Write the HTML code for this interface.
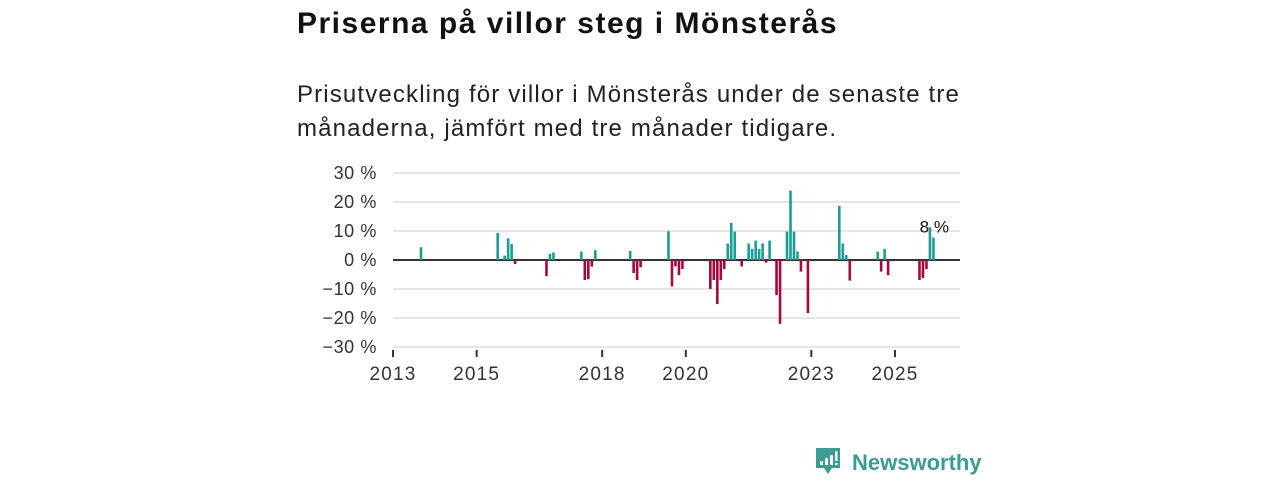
<!DOCTYPE html>
<html><head><meta charset="utf-8">
<style>
body{margin:0;width:1280px;height:480px;background:#fff;font-family:"Liberation Sans","DejaVu Sans",sans-serif;overflow:hidden;position:relative}
#title{position:absolute;left:297px;top:7px;font-size:30px;letter-spacing:1.5px;font-weight:bold;color:#111;margin:0}
#sub{position:absolute;left:297px;top:78px;font-size:24px;letter-spacing:1.15px;line-height:34px;color:#222;width:800px}
svg{position:absolute;left:0;top:0}
</style></head><body>
<h1 id="title">Priserna på villor steg i Mönsterås</h1>
<div id="sub">Prisutveckling för villor i Mönsterås under de senaste tre<br>månaderna, jämfört med tre månader tidigare.</div>
<svg id="chart" width="1280" height="480"></svg>
<script>
const months=[8,30,32,33,34,35,44,45,46,54,55,56,57,58,68,69,70,71,79,80,81,82,83,91,92,93,94,95,96,97,98,100,102,103,104,105,106,107,108,110,111,113,114,115,116,117,119,128,129,130,131,139,140,141,142,151,152,153,154,155];
const values=[4.4,9.3,1.5,7.5,5.5,-1.4,-5.6,2.1,2.6,2.9,-6.9,-6.6,-2.3,3.4,3.1,-4.5,-6.9,-2.5,9.9,-9.1,-2.2,-5.2,-3.1,-10,-6.9,-15.2,-6.9,-3.1,5.7,12.8,9.8,-2.2,5.7,3.8,6.7,3.8,5.7,-0.9,6.7,-12.1,-22,9.8,23.9,9.8,2.9,-4,-18.3,18.7,5.7,1.7,-7.1,2.9,-4,3.8,-5.2,-6.9,-6.2,-3.1,11.3,7.7];
const yTicks=[30,20,10,0,-10,-20,-30];
const xTickYears=[2013,2015,2018,2020,2023,2025];
const lastLabel="8 %";
const NS="http://www.w3.org/2000/svg";
const svg=document.getElementById('chart');
const x0=393,x1=960,pxPerMonth=3.486;
const xs=m=>x0+m*pxPerMonth;
const ys=v=>260-v*2.9;
function el(t,a){const e=document.createElementNS(NS,t);for(const k in a)e.setAttribute(k,a[k]);svg.appendChild(e);return e;}
yTicks.forEach(t=>{
  const l=el('line',{x1:x0,x2:x1,y1:ys(t),y2:ys(t),stroke:t===0?'#333':'#ddd','stroke-width':t===0?2:1.5});
  
  
  const tx=el('text',{x:377,y:ys(t)+6,'text-anchor':'end','font-size':18,'letter-spacing':0.6,fill:'#333','font-family':'Liberation Sans, DejaVu Sans, sans-serif'});
  tx.textContent=(t<0?'\u2212'+(-t):t)+' %';
  
  
});
xTickYears.forEach(y=>{
  const x=xs((y-2013)*12);
  const l=el('line',{x1:x,x2:x,y1:350,y2:357,stroke:'#333','stroke-width':2});
  
  
  const tx=el('text',{x:x,y:380,'text-anchor':'middle','font-size':19,'letter-spacing':1.2,fill:'#333','font-family':'Liberation Sans, DejaVu Sans, sans-serif'});
  tx.textContent=y;
  
  
});
months.forEach((m,i)=>{
  const v=values[i];const x=xs(m);
  const r=el('rect',{x:x-1.2,width:2.6,y:Math.min(ys(v),ys(0)),height:Math.abs(ys(v)-ys(0)),fill:v>=0?'#1a9e96':'#a3093f'});
  
  
});
const li=months.length-1;
const lt=el('text',{x:xs(months[li])+1,y:ys(values[li])-5,'text-anchor':'middle','font-size':17,fill:'#111','font-family':'Liberation Sans, DejaVu Sans, sans-serif'});
lt.textContent=lastLabel;


</script>
<svg width="1280" height="480" style="pointer-events:none">
<path d="M816 448 h24 v20 h-8 l-4 6 l-4 -6 h-8z" fill="#3a9d93"/>
<rect x="820" y="461" width="3" height="4" fill="#fff"/><rect x="825" y="458" width="3" height="7" fill="#fff"/><rect x="830" y="455" width="3" height="10" fill="#fff"/><rect x="835" y="451" width="2.5" height="10" fill="#fff"/><rect x="835" y="463" width="2.5" height="2" fill="#fff"/>
<text x="852" y="470" font-size="22" font-weight="bold" fill="#3a9d93" font-family="Liberation Sans, DejaVu Sans, sans-serif">Newsworthy</text>
</svg>
</body></html>
